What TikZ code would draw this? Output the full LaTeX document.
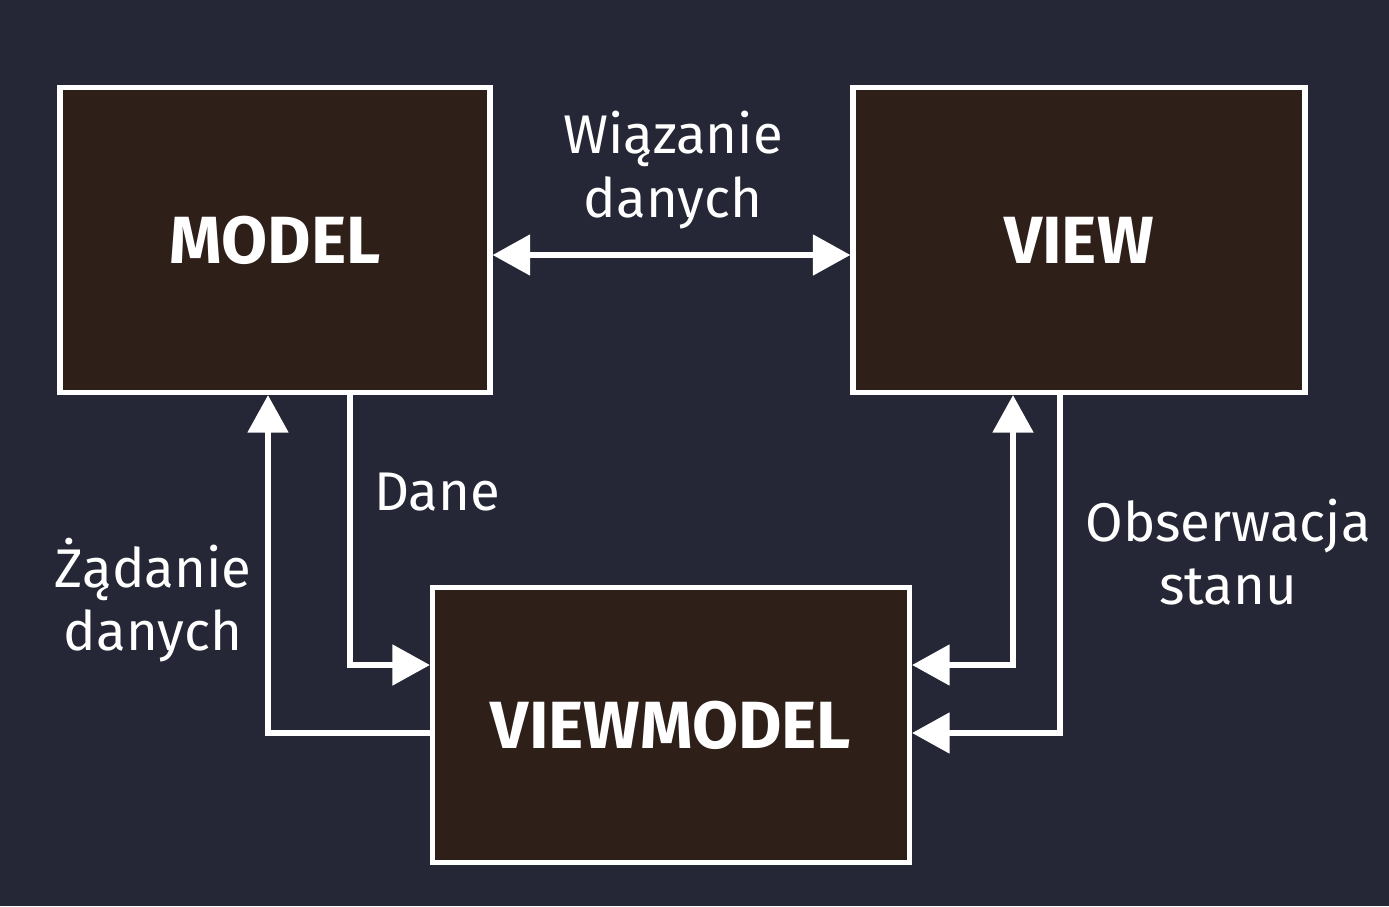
\documentclass[tikz,border=0pt]{standalone}
\usepackage{fontspec}
\setmainfont{Fira Sans}
\usetikzlibrary{arrows.meta}
\definecolor{bg}{HTML}{252736}
\definecolor{boxc}{HTML}{2E1F18}
\begin{document}
\begin{tikzpicture}[x=0.02cm,y=-0.02cm,
  box/.style={draw=white,line width=3pt,fill=boxc,inner sep=0,font=\fontsize{38}{42}\selectfont\bfseries,text=white},
  lab/.style={text=white,font=\fontsize{31}{36}\selectfont,align=center},
  con/.style={draw=white,line width=3pt,-{Triangle[length=0.75cm,width=0.8cm]}},
  dcon/.style={draw=white,line width=3pt,{Triangle[length=0.75cm,width=0.8cm]}-{Triangle[length=0.75cm,width=0.8cm]}}]
\fill[bg] (0,0) rectangle (1389,906);
\useasboundingbox (0,0) rectangle (1389,906);
\node[box,minimum width=430*0.02cm,minimum height=305*0.02cm] (m) at (275,240) {MODEL};
\node[box,minimum width=452*0.02cm,minimum height=305*0.02cm] (v) at (1079,240) {VIEW};
\node[box,minimum width=477*0.02cm,minimum height=275*0.02cm] (vm) at (671,725) {VIEWMODEL};
\coordinate (w) at (0,255);
\draw[dcon] (m.east|-w) -- (v.west|-w);
\node[lab] (l1) at (673,170) {Wiązanie\\danych};
\coordinate (d0) at (350,392);
\coordinate (d1) at (350,665);
\draw[con] (d0) -- (d1) -- (vm.west|-d1);
\node[lab] (l2) at (437,492) {Dane};
\coordinate (z1) at (268,733);
\draw[con] (vm.west|-z1) -- (z1) -- (z1|-m.south);
\node[lab] (l3) at (153,600) {Żądanie\\danych};
\coordinate (o1) at (1013,665);
\draw[dcon] (vm.east|-o1) -- (o1) -- (o1|-v.south);
\coordinate (o0) at (1060,392);
\coordinate (o2) at (1060,733);
\draw[con] (o0) -- (o2) -- (vm.east|-o2);
\node[lab] (l4) at (1228,552) {Obserwacja\\stanu};
\end{tikzpicture}
\end{document}
